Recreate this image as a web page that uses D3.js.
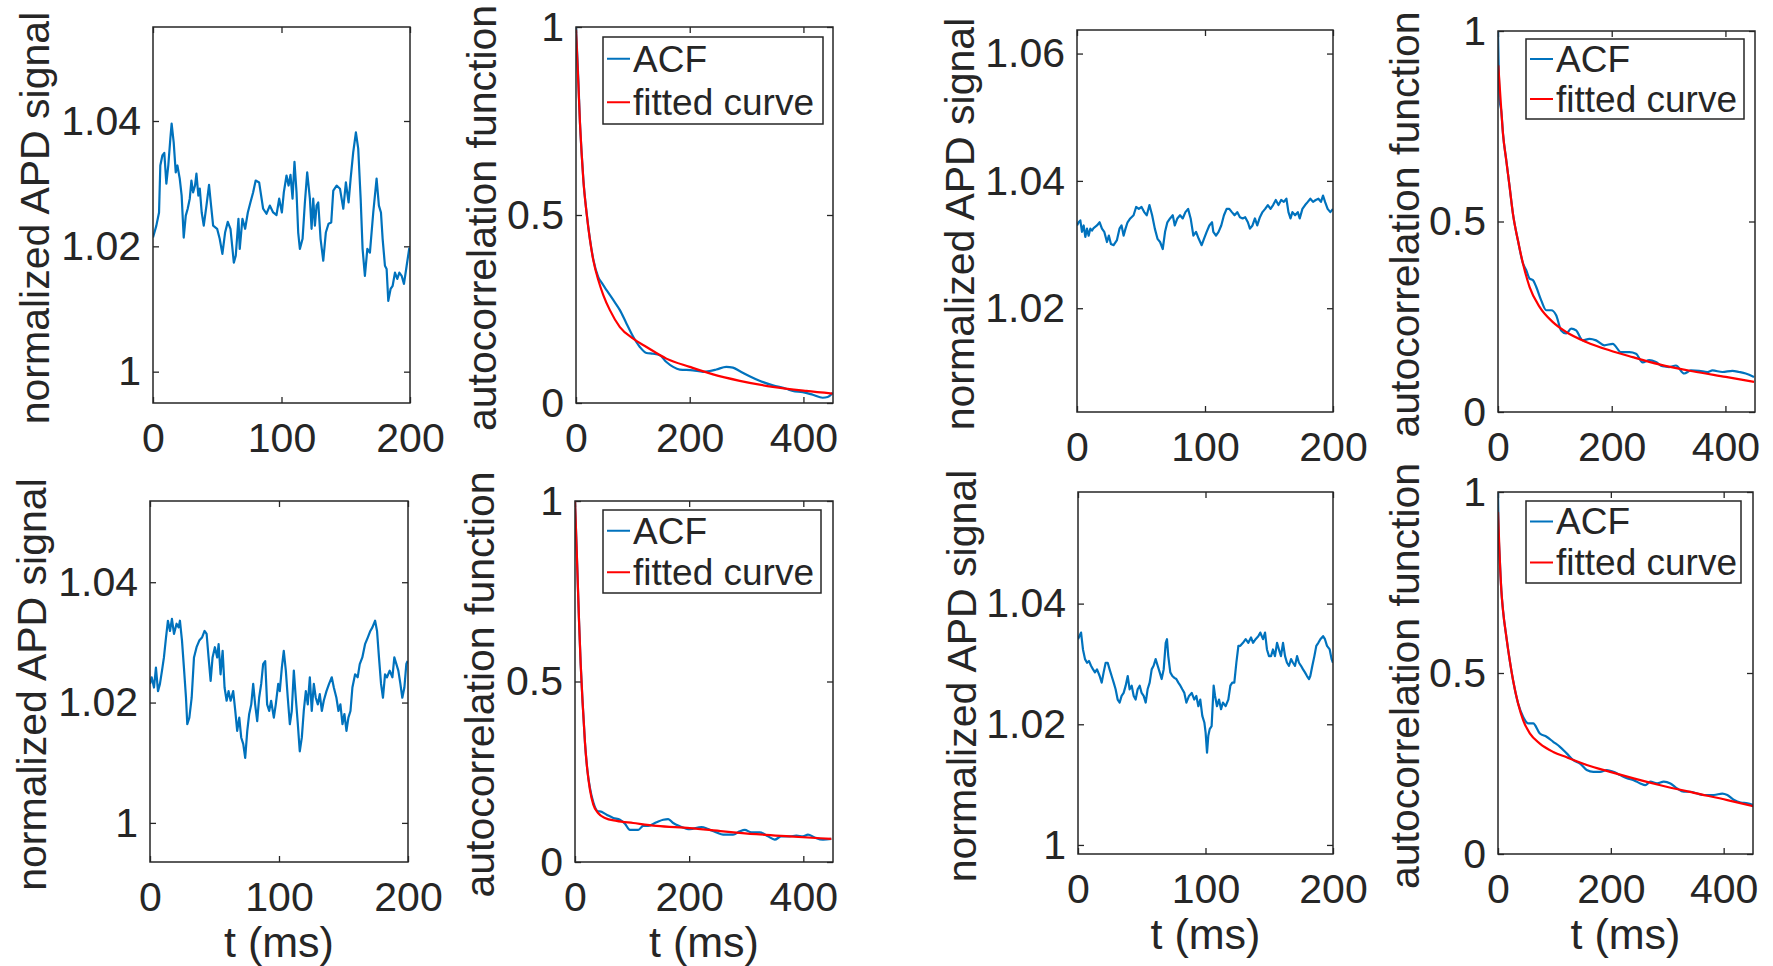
<!DOCTYPE html>
<html>
<head>
<meta charset="utf-8">
<script src="https://cdn.jsdelivr.net/npm/d3@7"></script>
<style>
  body { margin: 0; background: #fff; }
  svg { display: block; }
  text { font-family: "Liberation Sans", Arial, sans-serif; fill: #262626; }
</style>
</head>
<body>
<svg id="fig" width="1773" height="966"></svg>
<script>
// ---- tick labels ----
const sigXTicks = [0, 100, 200];
const acfXTicks = [0, 200, 400];
const acfYTicks = [0, 0.5, 1];
const sigYTicksA = [1, 1.02, 1.04];
const sigYTicksB = [1.02, 1.04, 1.06];
const sigYLabel = "normalized APD signal";
const acfYLabel = "autocorrelation function";
const xLabel = "t (ms)";
const legendLabels = ["ACF", "fitted curve"];

// ---- APD signals (t in ms, normalized signal) ----
// top-left
const sig1T = [0,2.6,4.7,5.7,7.3,8.8,10.4,11.9,13.5,14.5,16.1,17.7,19.0,20.8,22.3,23.9,25.5,27.0,28.6,29.9,31.2,32.7,33.8,35.3,36.4,37.9,39.5,41.6,43.6,45.2,46.8,49.9,51.9,54.0,56.1,58.2,60.3,62.9,64.4,66.5,67.5,69.6,71.7,73.8,75.8,77.9,79.9,82.6,85.7,88.3,90.9,93.5,96.1,98.2,100.3,101.8,103.9,105.5,107.0,108.6,110.1,111.7,113.0,114.3,116.4,118.2,120.0,122.1,123.4,124.7,126.0,127.3,128.6,130.4,132.5,134.5,136.6,138.7,140.3,142.9,145.5,148.1,150.1,152.2,153.8,155.8,157.9,159.7,161.6,163.1,164.9,166.8,168.8,171.4,174.0,175.8,177.4,178.7,180.5,181.8,183.1,184.9,186.5,188.3,190.1,191.7,193.5,195.3,197.4,199.5];
const sig1V = [1.0214,1.0233,1.0254,1.0329,1.0345,1.0349,1.0300,1.0329,1.0372,1.0396,1.0366,1.0318,1.0329,1.0308,1.0281,1.0214,1.0249,1.0260,1.0276,1.0305,1.0286,1.0297,1.0316,1.0281,1.0292,1.0254,1.0233,1.0265,1.0298,1.0265,1.0233,1.0228,1.0212,1.0188,1.0222,1.0239,1.0228,1.0174,1.0185,1.0244,1.0196,1.0244,1.0228,1.0254,1.0270,1.0286,1.0305,1.0302,1.0260,1.0252,1.0265,1.0254,1.0250,1.0276,1.0254,1.0286,1.0313,1.0297,1.0314,1.0276,1.0335,1.0286,1.0222,1.0196,1.0212,1.0270,1.0318,1.0276,1.0228,1.0276,1.0233,1.0265,1.0270,1.0212,1.0177,1.0222,1.0236,1.0238,1.0289,1.0297,1.0292,1.0260,1.0302,1.0270,1.0308,1.0350,1.0382,1.0356,1.0276,1.0196,1.0153,1.0196,1.0190,1.0254,1.0308,1.0265,1.0254,1.0212,1.0169,1.0164,1.0113,1.0132,1.0137,1.0158,1.0148,1.0158,1.0153,1.0140,1.0169,1.0198];

// top, third column
const sig2T = [0,1.3,2.6,3.9,5.2,6.5,7.8,9.1,10.4,11.7,13,15.6,17.7,19.5,21.3,23.4,24.9,26.5,28.6,31.2,33.2,34.8,36.4,37.9,39.5,41.6,44.2,46.2,48.3,50.4,52.5,54.5,56.6,58.7,60.8,62.9,64.9,67,68.8,70.6,72.7,74.8,76.4,78.4,80.5,82.6,84.7,86.8,88.8,90.9,93,95.1,97.4,99.2,101.3,103.4,105.5,106.5,108.6,110.6,112.7,114.8,116.9,119,121,123.1,125.2,127.3,129.4,131.4,133.5,135.1,137.1,139,140.8,142.9,144.9,147,149.1,151.2,153.2,155.3,157.4,159.5,161.6,163.6,165.2,166.8,168.3,170.4,172.5,174,176.1,178.2,180.3,182.3,184.4,186.5,188.6,190.6,192.2,193.8,195.8,197.9,200];
const sig2V = [1.0330,1.0335,1.0338,1.0320,1.0330,1.0312,1.0325,1.0314,1.0325,1.0322,1.0326,1.0330,1.0335,1.0325,1.0320,1.0304,1.0314,1.0301,1.0299,1.0307,1.0325,1.0330,1.0314,1.0325,1.0335,1.0341,1.0346,1.0359,1.0356,1.0359,1.0351,1.0346,1.0362,1.0346,1.0325,1.0309,1.0304,1.0293,1.0320,1.0335,1.0341,1.0346,1.0330,1.0341,1.0346,1.0341,1.0351,1.0356,1.0341,1.0314,1.0320,1.0309,1.0299,1.0309,1.0320,1.0330,1.0335,1.0320,1.0314,1.0320,1.0330,1.0346,1.0356,1.0356,1.0351,1.0346,1.0351,1.0343,1.0341,1.0343,1.0335,1.0325,1.0330,1.0341,1.0330,1.0343,1.0351,1.0356,1.0362,1.0356,1.0362,1.0370,1.0362,1.0370,1.0367,1.0372,1.0351,1.0341,1.0351,1.0346,1.0351,1.0341,1.0356,1.0362,1.0367,1.0372,1.0367,1.0370,1.0372,1.0367,1.0377,1.0367,1.0356,1.0351,1.0356];

// bottom-left
const sig3T = [0,1.3,3.1,4.6,6.2,7.7,9.3,10.8,12.4,13.9,15.5,17,18.6,20.6,22.2,23.2,24.8,26.3,27.9,28.9,30.5,32.3,34.1,36.1,38.2,40.3,42.3,43.9,45.4,47,48.5,50.3,52.1,53.2,54.7,56.3,57.8,59.4,60.9,62.5,64.5,66.1,67.6,69.2,70.7,72.3,73.8,75.4,76.9,78.5,80,81.5,83.1,84.6,86.2,87.7,89.3,90.8,92.4,93.9,96,97.5,99.4,100.6,102.2,103.7,105.3,106.8,108.4,109.9,111.5,113,114.6,116.1,117.7,119.2,120.8,122.3,123.9,125.4,127,128.5,130.1,131.6,133.2,134.7,136.8,138.8,140.9,142.5,144.5,146.1,147.6,149.2,150.7,152.3,153.8,155.4,156.9,159,161,162.6,164.6,166.7,168.8,170.8,172.4,174.5,176,177.5,179.1,180.6,182.2,183.7,185.8,187.9,189.4,191,192.5,194.1,195.6,197.2,198.7,199.7];
const sig3V = [1.0231,1.0242,1.0225,1.0258,1.0219,1.0231,1.0253,1.0275,1.0308,1.0336,1.0319,1.0339,1.0314,1.0331,1.0325,1.0336,1.0303,1.0258,1.0208,1.0164,1.0175,1.0208,1.0275,1.0292,1.0303,1.0308,1.0319,1.0314,1.0275,1.0236,1.0275,1.0292,1.0275,1.0297,1.0247,1.0286,1.0225,1.0203,1.0219,1.0203,1.0219,1.0186,1.0153,1.0175,1.0142,1.0131,1.0108,1.0153,1.0181,1.0197,1.0231,1.0197,1.0169,1.0208,1.0231,1.0264,1.0269,1.0197,1.0186,1.0203,1.0175,1.0197,1.0231,1.0219,1.0258,1.0286,1.0253,1.0208,1.0164,1.0186,1.0253,1.0208,1.0164,1.0119,1.0142,1.0186,1.0219,1.0197,1.0242,1.0186,1.0231,1.0208,1.0197,1.0214,1.0186,1.0203,1.0219,1.0231,1.0242,1.0225,1.0208,1.0186,1.0197,1.0164,1.0181,1.0153,1.0175,1.0186,1.0225,1.0247,1.0242,1.0264,1.0275,1.0297,1.0308,1.0319,1.0325,1.0336,1.0319,1.0275,1.0231,1.0208,1.0247,1.0242,1.0253,1.0242,1.0275,1.0264,1.0253,1.0231,1.0208,1.0225,1.0264,1.0269];

// bottom, third column
const sig4T = [0,2.4,3.9,5.5,7.1,8.6,10.2,11.8,13.3,14.9,17,18.6,20.1,21.7,23.3,24.8,26.4,28,29.5,31.1,32.7,34.2,35.8,37.4,39,40.5,42.1,43.7,45.2,46.8,48.4,49.9,51.5,53.1,54.6,56.2,57.8,59.3,60.9,62.5,64.1,65.6,67.2,68.8,69.8,70.8,72.4,74,75.6,77.1,78.7,80.3,81.8,83.4,85,87.1,89.2,91.2,92.8,94.4,95.9,97.5,99.1,100.1,101.2,102.2,103.3,104.8,106.4,107.5,109,110.6,112.2,113.7,115.8,117.9,119.5,121,122.6,124.2,125.8,127.3,129.4,131.5,133.6,135.7,137.3,139.3,141.4,143,145.1,146.7,148.2,149.8,151.4,152.9,154.5,156.1,157.6,159.2,160.8,162.4,163.9,165.5,167.1,168.6,170.2,171.8,173.3,174.9,176.5,178,179.6,181.2,182.2,183.8,185.4,186.9,188.5,190.1,192.2,193.7,195.3,197.4,198.9,200];
const sig4V = [1.0341,1.0352,1.0324,1.0308,1.0302,1.0305,1.0297,1.0291,1.0286,1.0291,1.0280,1.0269,1.0286,1.0302,1.0302,1.0291,1.0280,1.0269,1.0258,1.0241,1.0236,1.0247,1.0252,1.0264,1.0280,1.0258,1.0264,1.0247,1.0241,1.0258,1.0264,1.0252,1.0247,1.0236,1.0258,1.0269,1.0291,1.0297,1.0308,1.0297,1.0286,1.0275,1.0291,1.0335,1.0341,1.0313,1.0286,1.0280,1.0277,1.0275,1.0269,1.0264,1.0258,1.0252,1.0236,1.0247,1.0252,1.0241,1.0247,1.0230,1.0241,1.0214,1.0203,1.0186,1.0153,1.0181,1.0192,1.0197,1.0264,1.0247,1.0230,1.0241,1.0225,1.0236,1.0230,1.0241,1.0264,1.0269,1.0269,1.0302,1.0330,1.0330,1.0335,1.0341,1.0335,1.0344,1.0335,1.0341,1.0346,1.0352,1.0341,1.0352,1.0324,1.0313,1.0313,1.0324,1.0313,1.0335,1.0324,1.0313,1.0335,1.0313,1.0302,1.0297,1.0308,1.0302,1.0297,1.0313,1.0302,1.0297,1.0291,1.0286,1.0280,1.0275,1.0280,1.0297,1.0313,1.0330,1.0335,1.0341,1.0346,1.0341,1.0330,1.0324,1.0308,1.0302];

// ---- autocorrelation (lag in ms) ----
const acf1Lag = [0,4.1,7,9.9,12.9,18.7,24.6,30.4,39.2,46,53.8,65.5,77.2,88.9,100.6,112.3,124,135.7,147.4,159,170.8,182.5,205.8,223.4,235,246.8,264.3,276,287.7,305.3,322.8,346.2,369.6,381.3,398.8,416.4,433.9,442.7,451.5];
const acf1 = [1.0,0.86,0.745,0.665,0.595,0.505,0.435,0.382,0.335,0.318,0.300,0.274,0.247,0.211,0.176,0.149,0.133,0.131,0.127,0.109,0.096,0.089,0.087,0.083,0.085,0.089,0.096,0.094,0.085,0.071,0.059,0.047,0.038,0.032,0.029,0.022,0.014,0.016,0.027];
const fit1Lag = [0,4.1,7,9.9,12.9,18.7,24.6,30.4,39.2,48,59.6,77.2,100.6,124,159,200,241,288,346,405,451];
const fit1 = [0.993,0.85,0.744,0.664,0.593,0.504,0.433,0.38,0.327,0.287,0.247,0.202,0.171,0.149,0.118,0.096,0.076,0.059,0.043,0.032,0.025];

const acf2Lag = [0,2.9,5.8,8.8,14.6,20.5,26.3,35.1,43.9,49.7,55.6,61.4,67.3,76,84.8,93.6,102.3,111.1,119.9,128.7,137.4,149.1,160.8,172.5,187.1,201.8,216.4,231,242.7,254.4,266.1,277.8,289.5,301.2,312.9,327.5,339.2,353.8,368.4,377.2,394.7,412.3,424,435.7,450.3];
const acf2 = [1.0,0.819,0.79,0.73,0.66,0.59,0.52,0.45,0.39,0.372,0.35,0.346,0.328,0.293,0.267,0.267,0.254,0.214,0.206,0.219,0.214,0.188,0.192,0.188,0.175,0.179,0.157,0.157,0.153,0.13,0.136,0.131,0.12,0.118,0.122,0.101,0.109,0.108,0.105,0.109,0.105,0.108,0.105,0.101,0.092];
const fit2Lag = [0.5,5.8,8.8,14.6,20.5,26.3,35.1,43.9,55.6,73.1,96.5,119.9,155,195.9,236.8,283.6,342.1,400.6,450.3];
const fit2 = [0.91,0.792,0.73,0.66,0.59,0.52,0.45,0.39,0.328,0.276,0.236,0.21,0.184,0.162,0.144,0.125,0.107,0.092,0.079];

const acf3Lag = [0,4.1,7,9.9,13.4,17.5,21.6,26.2,32.1,40.8,43.7,55.4,67.1,78.7,87.5,96.2,110.8,119.5,128.3,142.9,154.5,163.3,172,183.7,201.2,221.6,233.2,247.8,259.5,277,288.6,297.4,309,323.6,338.2,349.9,361.5,376.1,387.8,399.4,408.2,419.8,434.4,449];
const acf3 = [1.0,0.81,0.67,0.55,0.44,0.33,0.255,0.205,0.165,0.14,0.14,0.131,0.122,0.117,0.106,0.089,0.089,0.1,0.1,0.11,0.117,0.119,0.108,0.099,0.091,0.097,0.091,0.082,0.076,0.076,0.085,0.089,0.082,0.082,0.071,0.062,0.071,0.071,0.073,0.071,0.076,0.068,0.062,0.064];
const fit3Lag = [0,4.1,7,9.9,13.4,17.5,21.6,26.2,32.1,40.8,52.5,72.9,102,142.9,201.2,259.5,317.8,376.1,449];
const fit3 = [1.0,0.81,0.67,0.55,0.44,0.33,0.255,0.2,0.159,0.135,0.122,0.114,0.108,0.1,0.094,0.085,0.077,0.071,0.064];

const acf4Lag = [0,1,3,5.9,8.9,14.8,20.8,26.7,35.6,44.5,53.4,62.3,74.2,86.1,97.9,109.8,121.7,133.5,145.4,157.3,169.1,181,192.9,204.7,216.6,228.5,240.4,252.2,261.1,270,281.9,293.8,305.6,317.5,329.4,341.2,353.1,365,382.8,397.6,406.5,418.5,430.3,442.1,452.8];
const acf4 = [1.0,0.9,0.82,0.729,0.673,0.6,0.535,0.48,0.416,0.379,0.361,0.361,0.333,0.324,0.31,0.296,0.278,0.259,0.25,0.232,0.227,0.227,0.232,0.227,0.218,0.209,0.204,0.195,0.19,0.2,0.195,0.2,0.195,0.181,0.172,0.172,0.167,0.163,0.163,0.167,0.163,0.149,0.142,0.14,0.135];
const fit4Lag = [0,3,5.9,8.9,14.8,20.8,26.7,35.6,44.5,56.4,74.2,97.9,121.7,157.3,198.8,240.4,287.8,347.2,406.5,452.8];
const fit4 = [0.945,0.82,0.729,0.673,0.6,0.535,0.48,0.416,0.37,0.333,0.305,0.282,0.267,0.246,0.227,0.209,0.19,0.169,0.149,0.132];

// ---- layout ----
const AX = "#262626", BLUE = "#0072BD", RED = "#FF0000";
const TICK_FS = 41, LABEL_FS = 41, XLABEL_FS = 43, LEG_FS = 37, TICK_LEN = 6;

const panels = [
  { kind: "sig", box: [153, 410, 27, 403], yDomain: [0.995, 1.055], yTicks: sigYTicksA, labelX: 49, t: sig1T, v: sig1V },
  { kind: "acf", box: [576, 833, 27, 403], labelX: 496, legend: [603, 823, 37, 124], lag: acf1Lag, acf: acf1, fitLag: fit1Lag, fit: fit1 },
  { kind: "sig", box: [1077, 1333, 30, 412], yDomain: [1.0037, 1.0637], yTicks: sigYTicksB, labelX: 974, t: sig2T, v: sig2V },
  { kind: "acf", box: [1498, 1755, 31, 412], labelX: 1419, legend: [1526, 1744, 39, 119], lag: acf2Lag, acf: acf2, fitLag: fit2Lag, fit: fit2 },
  { kind: "sig", box: [150, 408, 501, 862], yDomain: [0.9935, 1.0535], yTicks: sigYTicksA, labelX: 46, t: sig3T, v: sig3V, xlabel: true },
  { kind: "acf", box: [575, 833, 501, 862], labelX: 494, legend: [603, 821, 510, 593], lag: acf3Lag, acf: acf3, fitLag: fit3Lag, fit: fit3, xlabel: true },
  { kind: "sig", box: [1078, 1333, 492, 854], yDomain: [0.9985, 1.0585], yTicks: sigYTicksA, labelX: 976, t: sig4T, v: sig4V, xlabel: true },
  { kind: "acf", box: [1498, 1753, 492, 854], labelX: 1419, legend: [1526, 1741, 501, 583], lag: acf4Lag, acf: acf4, fitLag: fit4Lag, fit: fit4, xlabel: true }
];

const svg = d3.select("#fig");

function styleAxis(g, showText) {
  g.select(".domain").remove();
  g.selectAll(".tick line").attr("stroke", AX).attr("stroke-width", 1.3);
  g.selectAll("text").attr("fill", AX).style("font-size", TICK_FS + "px");
  if (!showText) g.selectAll("text").remove();
  g.attr("font-size", null).attr("font-family", null);
}

function drawPanel(p, idx) {
  const [x0, x1, y0, y1] = p.box;
  const xDomain = p.kind === "sig" ? [0, 200] : [0, 452];
  const yDomain = p.kind === "sig" ? p.yDomain : [0, 1];
  const xTicks = p.kind === "sig" ? sigXTicks : acfXTicks;
  const yTicks = p.kind === "sig" ? p.yTicks : acfYTicks;

  const x = d3.scaleLinear().domain(xDomain).range([x0, x1]);
  const y = d3.scaleLinear().domain(yDomain).range([y1, y0]);
  const g = svg.append("g");

  // inward ticks on all four sides, labels on bottom/left
  g.append("g").attr("transform", `translate(0,${y1})`)
    .call(d3.axisBottom(x).tickValues(xTicks).tickFormat(d => String(d)).tickSize(-TICK_LEN).tickPadding(20))
    .call(a => styleAxis(a, true));
  g.append("g").attr("transform", `translate(0,${y0})`)
    .call(d3.axisTop(x).tickValues(xTicks).tickSize(-TICK_LEN))
    .call(a => styleAxis(a, false));
  g.append("g").attr("transform", `translate(${x0},0)`)
    .call(d3.axisLeft(y).tickValues(yTicks).tickFormat(d => String(d)).tickSize(-TICK_LEN).tickPadding(12))
    .call(a => styleAxis(a, true));
  g.append("g").attr("transform", `translate(${x1},0)`)
    .call(d3.axisRight(y).tickValues(yTicks).tickSize(-TICK_LEN))
    .call(a => styleAxis(a, false));

  const clipId = "clip" + idx;
  g.append("clipPath").attr("id", clipId)
    .append("rect").attr("x", x0).attr("y", y0 - 2).attr("width", x1 - x0).attr("height", y1 - y0 + 2);

  const line = d3.line().x(d => x(d[0])).y(d => y(d[1]));
  const plot = g.append("g").attr("clip-path", `url(#${clipId})`);

  if (p.kind === "sig") {
    plot.append("path").datum(d3.zip(p.t, p.v))
      .attr("fill", "none").attr("stroke", BLUE).attr("stroke-width", 2.2)
      .attr("stroke-linejoin", "round").attr("d", line);
  } else {
    const smooth = d3.line().x(d => x(d[0])).y(d => y(d[1])).curve(d3.curveMonotoneX);
    plot.append("path").datum(d3.zip(p.lag, p.acf))
      .attr("fill", "none").attr("stroke", BLUE).attr("stroke-width", 2.2).attr("d", smooth);
    plot.append("path").datum(d3.zip(p.fitLag, p.fit))
      .attr("fill", "none").attr("stroke", RED).attr("stroke-width", 2.2).attr("d", smooth);
  }

  g.append("rect").attr("x", x0).attr("y", y0).attr("width", x1 - x0).attr("height", y1 - y0)
    .attr("fill", "none").attr("stroke", AX).attr("stroke-width", 1.5);

  // y label (kept just inside the top edge)
  g.append("text")
    .attr("transform", `translate(${p.labelX},${(y0 + y1) / 2 + 3}) rotate(-90)`)
    .attr("text-anchor", "middle")
    .style("font-size", LABEL_FS + "px")
    .text(p.kind === "sig" ? sigYLabel : acfYLabel);

  if (p.xlabel) {
    g.append("text")
      .attr("x", (x0 + x1) / 2).attr("y", y1 + 95)
      .attr("text-anchor", "middle")
      .style("font-size", XLABEL_FS + "px")
      .text(xLabel);
  }

  if (p.legend) {
    const [lx0, lx1, ly0, ly1] = p.legend;
    const lg = g.append("g");
    lg.append("rect").attr("x", lx0).attr("y", ly0).attr("width", lx1 - lx0).attr("height", ly1 - ly0)
      .attr("fill", "#fff").attr("stroke", AX).attr("stroke-width", 1.5);
    const rowH = (ly1 - ly0) / 2;
    [BLUE, RED].forEach((c, i) => {
      const cy = ly0 + rowH * (i + 0.5);
      lg.append("line").attr("x1", lx0 + 4).attr("x2", lx0 + 27).attr("y1", cy).attr("y2", cy)
        .attr("stroke", c).attr("stroke-width", 2);
      lg.append("text").attr("x", lx0 + 30).attr("y", cy).attr("dy", "0.35em")
        .style("font-size", LEG_FS + "px").text(legendLabels[i]);
    });
  }
}

panels.forEach(drawPanel);
</script>
</body>
</html>
